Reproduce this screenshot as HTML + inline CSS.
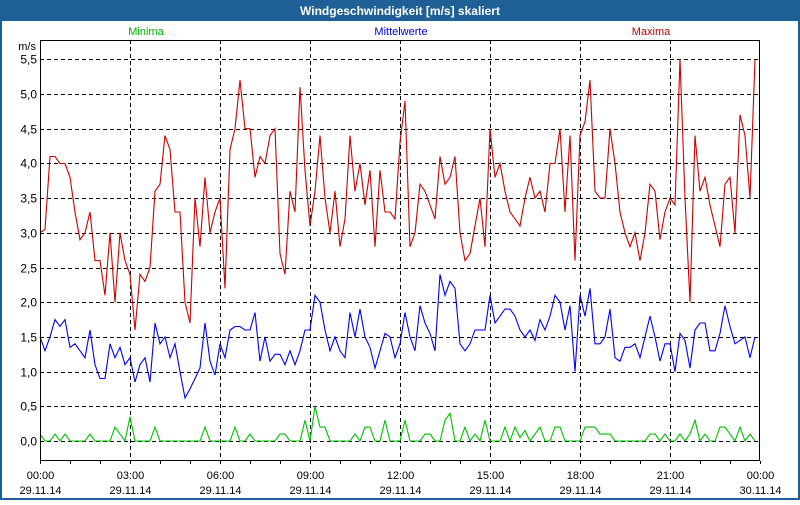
<!DOCTYPE html>
<html><head><meta charset="utf-8"><style>
html,body{margin:0;padding:0;background:#fff;}
body{width:800px;height:500px;overflow:hidden;font-family:"Liberation Sans",sans-serif;}
</style></head><body>
<svg id="chart" width="800" height="500" viewBox="0 0 800 500" xmlns="http://www.w3.org/2000/svg" font-family="Liberation Sans, sans-serif">
<rect x="0" y="0" width="800" height="500" fill="#1e5f95"/>
<rect x="2" y="21" width="796" height="477" fill="#ffffff"/>
<text x="400" y="15" text-anchor="middle" font-size="12" font-weight="bold" fill="#ffffff">Windgeschwindigkeit [m/s] skaliert</text>
<text x="146" y="35" text-anchor="middle" font-size="11" fill="#00b000">Minima</text>
<text x="401" y="35" text-anchor="middle" font-size="11" fill="#0000e0">Mittelwerte</text>
<text x="651" y="35" text-anchor="middle" font-size="11" fill="#c00000">Maxima</text>
<text x="36" y="50" text-anchor="end" font-size="11" fill="#000">m/s</text>
<g id="grid"></g>
<g id="series"></g>
<rect x="40.5" y="40.5" width="719" height="420" fill="none" stroke="#000" stroke-width="1"/>
<g id="axes"></g>
</svg>
<script>
const yTicks=[0,0.5,1,1.5,2,2.5,3,3.5,4,4.5,5,5.5];
const yTickLabels=["0,0","0,5","1,0","1,5","2,0","2,5","3,0","3,5","4,0","4,5","5,0","5,5"];
const xTickHours=[0,3,6,9,12,15,18,21,24];
const xTickTimes=["00:00","03:00","06:00","09:00","12:00","15:00","18:00","21:00","00:00"];
const xTickDates=["29.11.14","29.11.14","29.11.14","29.11.14","29.11.14","29.11.14","29.11.14","29.11.14","30.11.14"];
const stepMinutes=10;
const maxima=[3.0,3.05,4.1,4.1,4.0,4.0,3.8,3.3,2.9,3.0,3.3,2.6,2.6,2.1,3.0,2.0,3.0,2.6,2.4,1.6,2.4,2.3,2.5,3.6,3.7,4.4,4.2,3.3,3.3,2.0,1.7,3.5,2.8,3.8,3.0,3.3,3.5,2.2,4.2,4.5,5.2,4.5,4.5,3.8,4.1,4.0,4.4,4.5,2.7,
2.4,3.6,3.3,5.1,3.9,3.1,3.6,4.4,3.5,3.0,3.6,2.8,3.2,4.4,3.6,4.0,3.4,3.9,2.8,3.9,3.3,3.3,3.2,4.3,4.9,2.8,3.0,3.7,3.6,3.4,3.2,4.1,3.7,3.8,4.1,3.0,2.6,2.7,3.1,3.5,2.8,4.5,3.8,4.0,3.6,3.3,3.2,3.1,
3.5,3.8,3.5,3.6,3.3,4.0,4.0,4.5,3.3,4.4,2.6,4.4,4.6,5.2,3.6,3.5,3.5,4.5,4.0,3.3,3.0,2.8,3.0,2.6,3.0,3.7,3.6,2.9,3.3,3.5,3.4,5.5,3.5,2.0,4.4,3.6,3.8,3.4,3.1,2.8,3.7,3.8,3.0,4.7,4.4,3.5,5.5];
const mittelwerte=[1.5,1.3,1.5,1.75,1.65,1.75,1.35,1.4,1.3,1.2,1.6,1.1,0.9,0.9,1.4,1.2,1.35,1.1,1.2,0.85,1.1,1.2,0.85,1.7,1.4,1.5,1.2,1.4,1.0,0.62,0.75,0.9,1.05,1.7,1.15,0.95,1.4,1.2,1.6,1.65,1.65,1.6,1.6,1.85,1.15,1.5,1.15,1.25,1.25,
1.1,1.3,1.1,1.3,1.6,1.6,2.1,2.0,1.6,1.3,1.5,1.3,1.2,1.85,1.5,1.9,1.5,1.35,1.05,1.3,1.55,1.5,1.2,1.4,1.85,1.5,1.3,1.95,1.7,1.55,1.3,2.4,2.1,2.3,2.2,1.4,1.3,1.4,1.6,1.6,1.6,2.1,1.7,1.8,1.9,
1.9,1.8,1.6,1.5,1.6,1.45,1.75,1.6,1.8,2.1,2.0,1.6,1.95,1.0,2.1,1.8,2.2,1.4,1.4,1.5,1.9,1.2,1.15,1.35,1.35,1.4,1.2,1.5,1.8,1.5,1.15,1.4,1.4,1.0,1.55,1.45,1.05,1.6,1.7,1.7,1.3,1.3,1.55,1.95,1.65,1.4,1.45,1.5,1.2,1.5];
const minima=[0.1,0,0,0.1,0,0.1,0,0,0,0,
0.1,0,0,0,0,0.2,0.1,0,0.35,0,
0,0,0,0.2,0,0,0,0,0,0,
0,0,0,0.2,0,0,0,0,0,0.2,
0,0,0.1,0,0,0,0,0,0.1,0.1,
0,0,0,0.3,0,0.5,0.2,0.2,0,0,
0,0,0,0.1,0,0.2,0.2,0,0,0.3,
0,0,0,0.3,0,0,0,0.1,0.1,0,
0,0.3,0.4,0,0,0.2,0,0.1,0,0.3,
0,0,0,0.2,0,0.2,0.05,0.15,0,0.1,
0.2,0,0,0.2,0.2,0,0,0,0,0.2,
0.2,0.2,0.1,0.1,0.1,0,0,0,0,0,
0,0,0.1,0.1,0,0.1,0,0,0.1,0,
0.1,0.3,0,0.1,0,0,0.2,0.2,0.1,0,
0.2,0,0.1,0];

const NS="http://www.w3.org/2000/svg";
const X0=40,X1=760,Y0=441,YTOP=59.3,VMAX=5.5;
function xScale(hours){return X0+(X1-X0)*hours/24;}
function yScale(v){return Y0-(Y0-YTOP)*v/VMAX;}
function mk(tag,attrs,parent){const e=document.createElementNS(NS,tag);for(const k in attrs)e.setAttribute(k,attrs[k]);parent.appendChild(e);return e;}
const grid=document.getElementById('grid'),axes=document.getElementById('axes'),series=document.getElementById('series');
yTicks.forEach((v,i)=>{
  const y=Math.round(yScale(v))+0.5;
  const l=mk('line',{x1:X0,x2:X1,y1:y,y2:y,stroke:'#000','stroke-dasharray':'4,3','stroke-width':1},grid);
  
  
  const t=mk('text',{x:37,y:y+4,'text-anchor':'end','font-size':12,fill:'#000'},axes);
  t.textContent=yTickLabels[i];
  
  
});
xTickHours.forEach((h,i)=>{
  const x=Math.round(xScale(h))+0.5;
  if(i>0&&i<xTickHours.length-1){
    const l=mk('line',{x1:x,x2:x,y1:40,y2:461,stroke:'#000','stroke-dasharray':'4,3','stroke-width':1},grid);
    
    
  }
  const t1=mk('text',{x:x,y:479,'text-anchor':'middle','font-size':11,fill:'#000'},axes);
  t1.textContent=xTickTimes[i];
  
  
  const t2=mk('text',{x:x,y:494,'text-anchor':'middle','font-size':11,fill:'#000'},axes);
  t2.textContent=xTickDates[i];
  
  
});
for(let h=0;h<=24;h++){
  const x=Math.round(xScale(h))+0.5;
  const l=mk('line',{x1:x,x2:x,y1:461,y2:464,stroke:'#000','stroke-width':1},axes);
  
  
}
function drawSeries(arr,color,name){
  const pts=arr.map((v,i)=>xScale(i*stepMinutes/60).toFixed(1)+','+yScale(v).toFixed(1)).join(' ');
  const p=mk('polyline',{points:pts,fill:'none',stroke:color,'stroke-width':1.1,'stroke-linejoin':'miter'},series);
  
  
}
drawSeries(minima,'#00c000','minima-line');
drawSeries(mittelwerte,'#0000ff','mittelwerte-line');
drawSeries(maxima,'#cc0000','maxima-line');
</script>
</body></html>
